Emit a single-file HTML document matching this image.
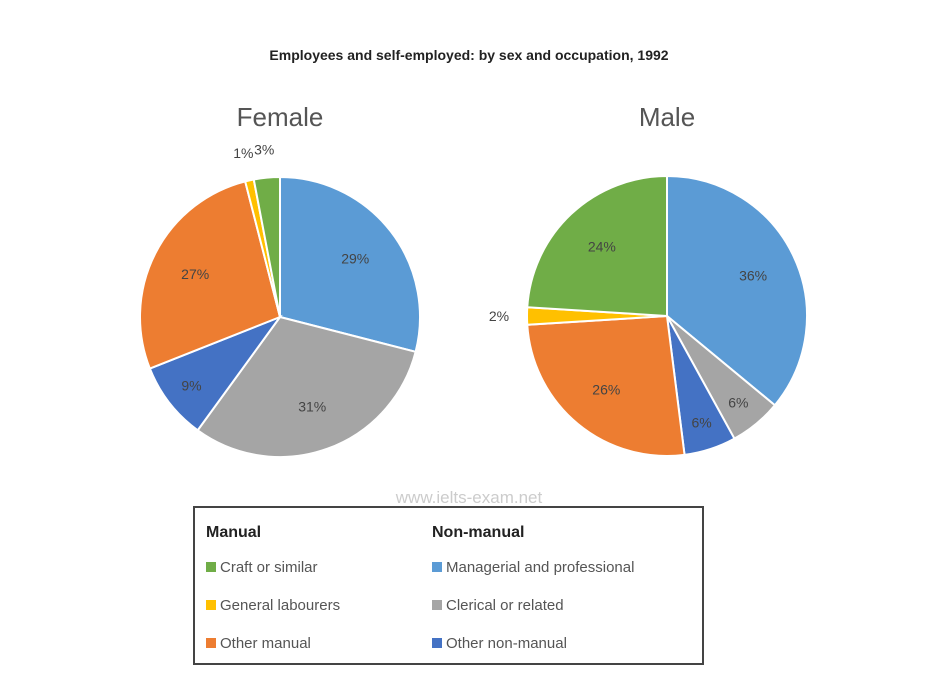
<!DOCTYPE html>
<html><head><meta charset="utf-8"><style>
body{margin:0;background:#fff;font-family:"Liberation Sans",sans-serif}
svg{display:block}
</style></head><body>
<svg width="938" height="677" viewBox="0 0 938 677">
<text x="469" y="60" text-anchor="middle" font-size="14" font-weight="bold" fill="#222">Employees and self-employed: by sex and occupation, 1992</text>
<g id="pies"></g>
<text x="469" y="503" text-anchor="middle" font-size="17" fill="#ccc">www.ielts-exam.net</text>
<rect x="194" y="507" width="509" height="157" fill="#fff" stroke="#444" stroke-width="2"/>
<text x="206" y="537" font-size="16" font-weight="bold" fill="#222">Manual</text>
<text x="432" y="537" font-size="16" font-weight="bold" fill="#222">Non-manual</text>
<g id="legend"></g>
</svg>
<script>
const categories=["Managerial and professional","Clerical or related","Other non-manual","Other manual","General labourers","Craft or similar"];
const colors=["#5b9bd5","#a5a5a5","#4472c4","#ed7d31","#ffc000","#70ad47"];
const femaleValues=[29,31,9,27,1,3];
const maleValues=[36,6,6,26,2,24];
const pieTitles=["Female","Male"];
const NS="http://www.w3.org/2000/svg";
const pies=document.getElementById('pies');
function mk(t,a,p){const e=document.createElementNS(NS,t);for(const k in a)e.setAttribute(k,a[k]);(p||pies).appendChild(e);return e;}
function drawPie(vals,cx,cy,r,title,key){
  const t=mk('text',{x:cx,y:126,'text-anchor':'middle','font-size':26,fill:'#555'});t.textContent=title;
  
  
  const total=vals.reduce((a,b)=>a+b,0);let acc=0;
  vals.forEach((v,i)=>{
    const a0=acc/total*2*Math.PI;acc+=v;const a1=acc/total*2*Math.PI;
    const x0=cx+r*Math.sin(a0),y0=cy-r*Math.cos(a0),x1=cx+r*Math.sin(a1),y1=cy-r*Math.cos(a1);
    const large=(a1-a0)>Math.PI?1:0;
    const p=mk('path',{d:`M${cx},${cy}L${x0},${y0}A${r},${r} 0 ${large} 1 ${x1},${y1}Z`,fill:colors[i],stroke:'#fff','stroke-width':2});
    
    
    const am=(a0+a1)/2;const f=v<4?1.2:(v<10?0.8:0.68);
    const lx=cx+r*f*Math.sin(am),ly=cy-r*f*Math.cos(am)+5;
    const l=mk('text',{x:lx,y:ly,'text-anchor':'middle','font-size':14,fill:'#444'});l.textContent=v+'%';
    
    
  });
}
drawPie(femaleValues,280,317,140,pieTitles[0],'female');
drawPie(maleValues,667,316,140,pieTitles[1],'male');
const leg=document.getElementById('legend');
const legOrder=[[5,206,572],[4,206,610],[3,206,648],[0,432,572],[1,432,610],[2,432,648]];
legOrder.forEach(([i,x,y])=>{
  const r=mk('rect',{x:x,y:y-10,width:10,height:10,fill:colors[i]},leg);
  
  
  const t=mk('text',{x:x+14,y:y,'font-size':15,fill:'#555'},leg);t.textContent=categories[i];
  
  
});
</script>
</body></html>
